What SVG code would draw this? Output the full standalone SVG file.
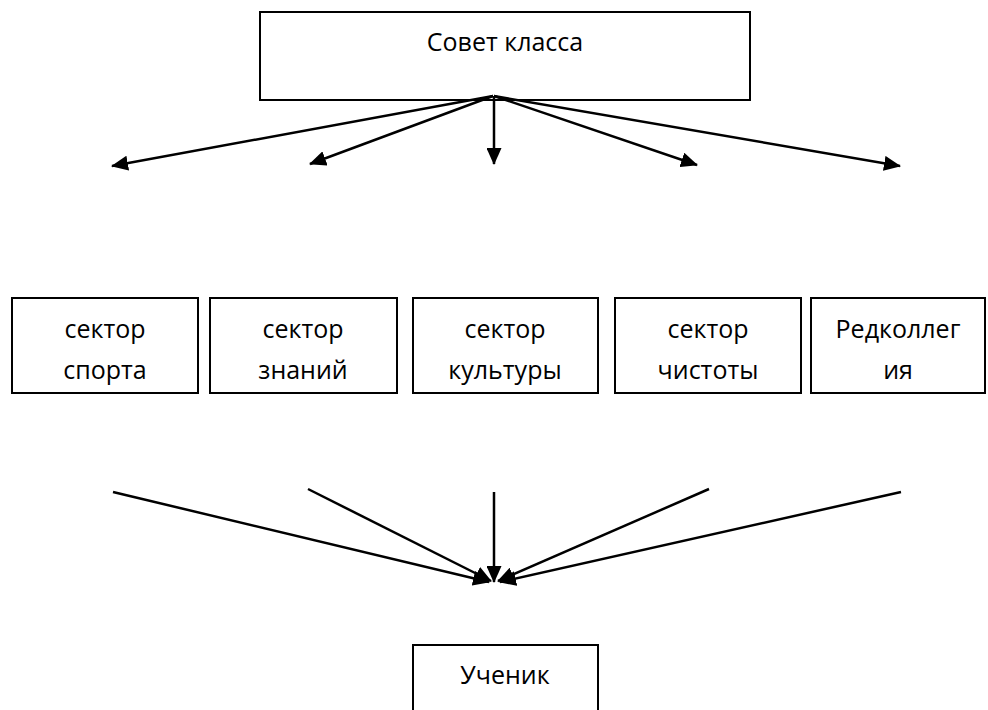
<svg xmlns="http://www.w3.org/2000/svg" width="988" height="710" viewBox="0 0 988 710">
<defs>
<style>
.box{fill:#fff;stroke:#000;stroke-width:2}
.t{font-family:"Open Sans","Noto Sans","Liberation Sans",sans-serif;font-size:25px;fill:#000;text-anchor:middle}
.c{stroke:#000;stroke-width:2.5;fill:none;marker-end:url(#ah)}
</style>
<marker id="ah" markerUnits="userSpaceOnUse" viewBox="0 0 17 15" refX="16" refY="7.5" markerWidth="17" markerHeight="15" orient="auto">
<path d="M0,0 L17,7.5 L0,15 Z" fill="#000"/>
</marker>
</defs>
<rect width="988" height="710" fill="#fff"/>
<g id="sovet"><rect class="box" x="260" y="12" width="490" height="88"/><text class="t" x="505" y="51">Совет класса</text></g>
<g id="sport"><rect class="box" x="12" y="298" width="186" height="95"/><text class="t" x="105" y="338">сектор</text><text class="t" x="105" y="379">спорта</text></g>
<g id="znaniy"><rect class="box" x="210" y="298" width="187" height="95"/><text class="t" x="303" y="338">сектор</text><text class="t" x="303" y="379">знаний</text></g>
<g id="kultury"><rect class="box" x="413" y="298" width="185" height="95"/><text class="t" x="505" y="338">сектор</text><text class="t" x="505" y="379">культуры</text></g>
<g id="chistoty"><rect class="box" x="615" y="298" width="186" height="95"/><text class="t" x="708" y="338">сектор</text><text class="t" x="708" y="379">чистоты</text></g>
<g id="redkollegiya"><rect class="box" x="811" y="298" width="174" height="95"/><text class="t" x="898" y="338">Редколлег</text><text class="t" x="898" y="379">ия</text></g>
<g id="uchenik"><rect class="box" x="413" y="645" width="185" height="80"/><text class="t" x="505" y="684">Ученик</text></g>
<g id="connectors">
<line class="c" x1="493" y1="96" x2="112" y2="166"/>
<line class="c" x1="493" y1="96" x2="310" y2="164"/>
<line class="c" x1="494" y1="96" x2="494" y2="164"/>
<line class="c" x1="494" y1="96" x2="697" y2="165"/>
<line class="c" x1="494" y1="96" x2="900" y2="166"/>
<line class="c" x1="113" y1="492" x2="489" y2="582"/>
<line class="c" x1="308" y1="489" x2="491" y2="581"/>
<line class="c" x1="494" y1="492" x2="494" y2="582"/>
<line class="c" x1="709" y1="489" x2="498" y2="581"/>
<line class="c" x1="901" y1="492" x2="500" y2="582"/>
</g>
</svg>
